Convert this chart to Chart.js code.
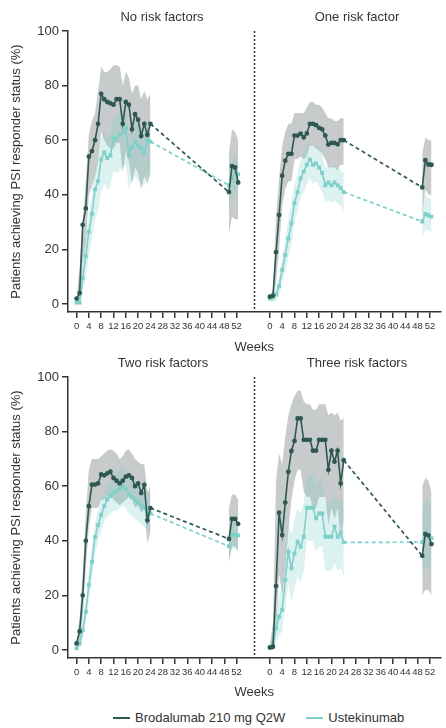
<!DOCTYPE html>
<html>
<head>
<meta charset="utf-8">
<script src="https://cdn.jsdelivr.net/npm/chart.js@4.4.1/dist/chart.umd.min.js"></script>
<style>
  body { margin: 0; background: #fff; font-family: "Liberation Sans", Arial, sans-serif; color: #333; }
  #wrap { position: relative; width: 446px; height: 728px; }
  canvas { position: absolute; left: 0; }
  .ptitle { position: absolute; width: 180px; text-align: center; font-size: 13px; line-height: 16px; color: #333; }
  #legend { position: absolute; top: 710px; left: 113px; display: flex; align-items: center; font-size: 13px; line-height: 16px; color: #333; }
  #legend .sw { display: inline-block; width: 17px; height: 2px; margin-right: 5px; }
</style>
</head>
<body>
<div id="wrap">
  <canvas id="topChart" width="446" height="355" style="top:0"></canvas>
  <canvas id="bottomChart" width="446" height="344" style="top:356px"></canvas>
  <div class="ptitle" style="left:72px;top:9px">No risk factors</div>
  <div class="ptitle" style="left:267px;top:9px">One risk factor</div>
  <div class="ptitle" style="left:73px;top:355px">Two risk factors</div>
  <div class="ptitle" style="left:267px;top:355px">Three risk factors</div>
  <div id="legend">
    <span class="sw" style="background:#2f5853"></span><span>Brodalumab 210 mg Q2W</span>
    <span class="sw" style="background:#7fcfca;margin-left:21px"></span><span>Ustekinumab</span>
  </div>
</div>
<script>
// weeks: weekly to 24, then the week 48-52 visits
const weeks = [0,1,2,3,4,5,6,7,8,9,10,11,12,13,14,15,16,17,18,19,20,21,22,23,24, 49.5,50.5,51.5,52.5];
const SPLIT = 25;
const xTicks = [0,4,8,12,16,20,24,28,32,36,40,44,48,52];
const yTicks = [0,20,40,60,80,100];

// No risk factors
const noBrod   = [2,4,29,35,54,56,60,66,77,75,74,73.5,73,75,75,66,74,73,64,69.5,67.5,61.5,66,62,66, 41,50.5,50,44.5];
const noBrodLo = [2,0,15,22,40,43,47,52,63,60,58,57,57,59,59,48,56,52,44,50,48,42,47,44,48, 26,32,31,31];
const noBrodHi = [2,14,30,45,62,67,70,78,87,85,85,86,87.5,87.5,87,80,85,83,77,80,80,75,78,75,77, 55,64,63,60];
const noUste   = [0.5,0.5,9.5,17.5,26.5,33,42,45,53,55.5,53.5,54.5,61,60.5,62,63,64.5,54.5,57.5,59.5,58,57,55.5,60,59.5, 43.5,46,48,47.5];
const noUsteLo = [0,0,4,10,18,24,31,34,41,44,42,43,49,48,49,50,51,42,45,47,45,44,43,48,47, 36,39,41,41];
const noUsteHi = [1,2,14,24,33,40,50,53,61,63,61,62,68,68,70,71,72,62,65,67,66,65,63,67,67, 50,53,54,53];

// One risk factor
const oneBrod   = [2.7,3,19,32.6,47,52.5,55,55,61.7,61.7,62.4,61,62.5,66,66,65.5,64.5,64,61.7,58.4,59,59,58.5,60,60, 42.7,52.7,51.1,51];
const oneBrodLo = [2,1,8,20,36,42,45,45,53,53,54,53,54,58,58,57,56,55,53,50,50,50,49,51,51, 32,42,40,40];
const oneBrodHi = [3,5,32,46,58,63,66,66,70,70,70,70,72,74,74,73,73,72,70,68,68,67,67,68,68, 55,61,60,60];
const oneUste   = [2,2.5,3.5,6.5,12.5,18,24,29.5,37,41,46,48.5,51,53,51,51.5,50,48,43.5,44.5,43.5,44.5,43.5,42.5,41, 30.2,33,32.5,32];
const oneUsteLo = [1,1,1,3,8,12,17,22,30,34,39,41,44,46,44,45,43,41,37,38,37,38,37,36,34, 25,27,27,26];
const oneUsteHi = [3,4,6,10,17,24,31,37,44,48,53,56,58,60,58,58,57,55,50,51,50,51,50,49,48, 35,40,39,38];

// Two risk factors
const twoBrod   = [2.4,6.8,20,40,52.7,60.6,60.6,61,64.3,64,64.7,65.3,63,62,61,62,63.5,64,63,60,61,57.5,60.5,47.5,52, 40.7,48,48,46.2];
const twoBrodLo = [1,2,12,30,45,52,52,52,55,55,56,57,55,54,53,54,55,56,55,52,53,50,52,39,43, 32,38,38,36];
const twoBrodHi = [3,12,28,50,66,70,70,70,71,72,73,73.5,73,72,70,71,73,73.5,72,70,69,68,68,58,60, 52,57,57,55];
const twoUste   = [0.6,2.4,7.3,14,23.8,32.3,41.4,45.8,49.5,52.7,55.2,56.4,57.6,58.2,59,60,59,57,56,55,54,53,52,51,50, 38,42.3,42.3,42];
const twoUsteLo = [0,1,4,10,18,26,35,40,44,47,49,50,51,51,52,53,52,50,49,48,47,46,45,44,43, 33,37,37,37];
const twoUsteHi = [1,4,10,18,29,38,47,51,55,58,61,62,64,65,66,67,66,64,63,62,61,60,59,58,57, 43,47,47,46];

// Three risk factors
const threeBrod   = [0.9,1.2,23.4,50.3,42.1,54,65.3,72.9,76.6,84.8,84.8,77,77,77,73,73,77,77,77,66,73,69,73,61,69.5, 34.5,42.4,42,38.8];
const threeBrodLo = [0,0,6,28,20,30,44,55,62,66,66,58,56,56,52,52,56,56,56,46,52,48,52,40,48, 20,22,22,20];
const threeBrodHi = [2,10,62,72,68,78,86,90,93,95,95,91,90,90,88,88,90,90,90,86,87,86,87,84,85, 60,63,62,58];
const threeUste   = [1.2,2.4,7.9,12.2,14.7,25.6,36,30,35.4,39.7,37.8,41.5,52.1,52.1,52.1,48.2,50,50,41.5,41.5,41.5,45.2,41.5,43,39.4, 39.5,43,41.8,41];
const threeUsteLo = [0,0,3,5,7,15,24,18,23,27,25,29,40,40,40,36,38,38,29,29,29,32,29,30,27, 29,30,30,29];
const threeUsteHi = [2,5,14,20,24,36,48,42,48,52,50,54,64,64,64,60,62,62,54,54,54,58,54,56,52, 52,55,55,52];

// layout of the shared weeks axis: right panel is shifted along the same scale
const RIGHT_OFFSET = 62.8;
const DIVIDER = 57.7;
const X_MIN = -2.78, X_MAX = 118.2;
const Y_MIN = -2.93;

const brodStyle = { line: '#2f5853', band: 'rgba(125,130,130,0.42)', marker: 'circle', lineOrder: 1, bandOrder: 10 };
const usteStyle = { line: '#7fcfca', band: 'rgba(127,207,202,0.28)', marker: 'rect', lineOrder: 2, bandOrder: 9 };

Chart.defaults.font.family = '"Liberation Sans", Arial, sans-serif';
Chart.defaults.color = '#333';

function pts(arr, offset, from, to) {
  return weeks.slice(from, to).map((w, i) => ({ x: w + offset, y: arr[from + i] }));
}

function drugSets(offset, val, lo, hi, style) {
  const sets = [];
  [[0, SPLIT], [SPLIT, weeks.length]].forEach(([a, b]) => {
    sets.push({ data: pts(hi, offset, a, b), fill: '+1', backgroundColor: style.band, borderWidth: 0, pointRadius: 0, order: style.bandOrder });
    sets.push({ data: pts(lo, offset, a, b), fill: false, borderWidth: 0, pointRadius: 0, order: style.bandOrder });
    sets.push({ data: pts(val, offset, a, b), borderColor: style.line, backgroundColor: style.line,
      borderWidth: 1.6, pointRadius: 1.6, pointStyle: style.marker, order: style.lineOrder });
  });
  // dashed bridge from week 24 to the week 48-52 visits
  sets.push({ data: pts(val, offset, SPLIT - 1, SPLIT + 1), borderColor: style.line, borderDash: [4, 3],
    borderWidth: 1.7, pointRadius: 0, order: style.lineOrder + 2 });
  return sets;
}

const dividerPlugin = {
  id: 'divider',
  afterDatasetsDraw(chart) {
    const { ctx, scales: { x, y } } = chart;
    const px = Math.round(x.getPixelForValue(DIVIDER)) + 0.5;
    ctx.save();
    ctx.strokeStyle = '#333';
    ctx.lineWidth = 1.5;
    ctx.setLineDash([2, 2]);
    ctx.beginPath();
    ctx.moveTo(px, y.getPixelForValue(100));
    ctx.lineTo(px, y.bottom);
    ctx.stroke();
    ctx.restore();
  }
};

function makeChart(id, padTop, xHeight, left, right) {
  const datasets = [].concat(
    drugSets(0, left[0], left[1], left[2], brodStyle),
    drugSets(0, left[3], left[4], left[5], usteStyle),
    drugSets(RIGHT_OFFSET, right[0], right[1], right[2], brodStyle),
    drugSets(RIGHT_OFFSET, right[3], right[4], right[5], usteStyle)
  );
  return new Chart(document.getElementById(id), {
    type: 'line',
    data: { datasets },
    plugins: [dividerPlugin],
    options: {
      responsive: false,
      animation: false,
      devicePixelRatio: 1,
      events: [],
      layout: { padding: { top: padTop, left: 9, right: 0, bottom: 0 } },
      elements: { line: { tension: 0 } },
      plugins: { legend: { display: false }, tooltip: { enabled: false } },
      scales: {
        x: {
          type: 'linear',
          min: X_MIN, max: X_MAX,
          afterBuildTicks: (s) => {
            s.ticks = xTicks.map(v => ({ value: v })).concat(xTicks.map(v => ({ value: v + RIGHT_OFFSET })));
          },
          afterFit: (s) => { s.height = xHeight; },
          ticks: {
            autoSkip: false, maxRotation: 0, padding: 3,
            font: { size: 9.5 }, color: '#333',
            callback: (v) => Math.round(v > DIVIDER ? v - RIGHT_OFFSET : v)
          },
          grid: { drawOnChartArea: false, drawTicks: true, tickLength: 6, color: '#333', lineWidth: 1.5 },
          border: { display: true, color: '#333', width: 1.5 },
          title: { display: true, text: 'Weeks', font: { size: 13 }, color: '#333', padding: 0 }
        },
        y: {
          min: Y_MIN, max: 100,
          afterBuildTicks: (s) => { s.ticks = yTicks.map(v => ({ value: v })); },
          afterFit: (s) => { s.width = 59; },
          ticks: { padding: 3, font: { size: 13 }, color: '#333' },
          grid: { drawOnChartArea: false, drawTicks: true, tickLength: 6, color: '#333', lineWidth: 1.5 },
          border: { display: true, color: '#333', width: 1.5 },
          title: { display: true, text: 'Patients achieving PSI responder status (%)', font: { size: 13 }, color: '#333', padding: 0 }
        }
      }
    }
  });
}

makeChart('topChart', 31, 43,
  [noBrod, noBrodLo, noBrodHi, noUste, noUsteLo, noUsteHi],
  [oneBrod, oneBrodLo, oneBrodHi, oneUste, oneUsteLo, oneUsteHi]);
makeChart('bottomChart', 21, 42,
  [twoBrod, twoBrodLo, twoBrodHi, twoUste, twoUsteLo, twoUsteHi],
  [threeBrod, threeBrodLo, threeBrodHi, threeUste, threeUsteLo, threeUsteHi]);
</script>
</body>
</html>
